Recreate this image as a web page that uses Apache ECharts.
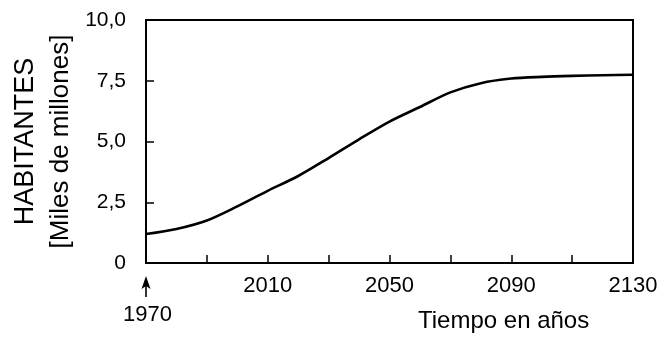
<!DOCTYPE html>
<html>
<head>
<meta charset="utf-8">
<script src="https://cdn.jsdelivr.net/npm/echarts@6/dist/echarts.min.js"></script>
<style>
  html, body { margin: 0; padding: 0; background: #fff; }
  #chart { width: 672px; height: 340px; }
</style>
</head>
<body>
<div id="chart"></div>
<script>
// Population projection, thousands of millions of inhabitants
const years = [1970, 1980, 1990, 2000, 2010, 2020, 2030, 2040, 2050,
               2060, 2070, 2080, 2090, 2100, 2110, 2120, 2130];
const habitantes = [1.19, 1.40, 1.75, 2.33, 2.97, 3.58, 4.32, 5.09, 5.82,
                    6.42, 7.02, 7.40, 7.59, 7.66, 7.70, 7.725, 7.75];
const xLabelYears = [1970, 2010, 2050, 2090, 2130];
const yTickLabels = ['0', '2,5', '5,0', '7,5', '10,0'];

const FONT = 'Liberation Sans, Arial, sans-serif';
const chart = echarts.init(document.getElementById('chart'), null, { renderer: 'canvas' });

chart.setOption({
  animation: false,
  backgroundColor: '#fff',
  title: {
    text: 'Tiempo en años',
    left: 418,
    top: 309,
    padding: 0,
    textStyle: { fontFamily: FONT, fontSize: 24, fontWeight: 'normal', color: '#000' }
  },
  grid: {
    left: 146, right: 39, top: 20, bottom: 77,
    show: true, borderColor: '#000', borderWidth: 2,
    containLabel: false,
    outerBoundsMode: 'none'
  },
  xAxis: {
    type: 'value',
    min: 1970, max: 2130, interval: 20,
    axisLine: { lineStyle: { color: '#000', width: 2 } },
    axisTick: { inside: true, length: 8, lineStyle: { color: '#000', width: 1.5 } },
    splitLine: { show: false },
    axisLabel: {
      margin: 12,
      color: '#000',
      fontFamily: FONT,
      fontSize: 22,
      lineHeight: 22,
      showMinLabel: true,
      showMaxLabel: true,
      formatter: function (v) {
        if (v === xLabelYears[0]) return '{first|' + v + '}';
        return xLabelYears.indexOf(v) >= 0 ? String(v) : '';
      },
      rich: {
        // first year sits lower, leaving room for the arrow above it
        first: { fontFamily: FONT, fontSize: 22, lineHeight: 79, padding: [0, 0, 0, 3], color: '#000' }
      }
    }
  },
  yAxis: {
    type: 'value',
    min: 0, max: 10, interval: 2.5,
    name: '{a|HABITANTES}\n{b|[Miles de millones]}',
    nameLocation: 'middle',
    nameRotate: 90,
    nameGap: 66,
    nameTextStyle: {
      color: '#000',
      rich: {
        a: { fontFamily: FONT, fontSize: 27, lineHeight: 36, color: '#000' },
        b: { fontFamily: FONT, fontSize: 26, lineHeight: 36, color: '#000' }
      }
    },
    axisLine: { show: true, lineStyle: { color: '#000', width: 2 } },
    axisTick: { show: true, inside: true, length: 8, lineStyle: { color: '#000', width: 1.5 } },
    splitLine: { show: false },
    axisLabel: {
      margin: 20,
      color: '#000',
      fontFamily: FONT,
      fontSize: 21,
      formatter: function (v) { return yTickLabels[Math.round(v / 2.5)]; }
    }
  },
  series: [{
    type: 'line',
    data: years.map((y, i) => [y, habitantes[i]]),
    smooth: 0.3,
    showSymbol: false,
    lineStyle: { color: '#000', width: 2.6 }
  }]
});

// Arrow pointing up at the first year, placed from the axis scale
const origin = chart.convertToPixel({ xAxisIndex: 0, yAxisIndex: 0 }, [years[0], 0]);
const ax = origin[0], ay = origin[1];
chart.setOption({
  graphic: [
    {
      type: 'line', silent: true,
      shape: { x1: ax, y1: ay + 20, x2: ax, y2: ay + 34 },
      style: { stroke: '#000', lineWidth: 1.6 }
    },
    {
      type: 'polygon', silent: true,
      shape: { points: [[ax, ay + 13], [ax - 4.5, ay + 26], [ax, ay + 23], [ax + 4.5, ay + 26]] },
      style: { fill: '#000' }
    }
  ]
});
</script>
</body>
</html>
